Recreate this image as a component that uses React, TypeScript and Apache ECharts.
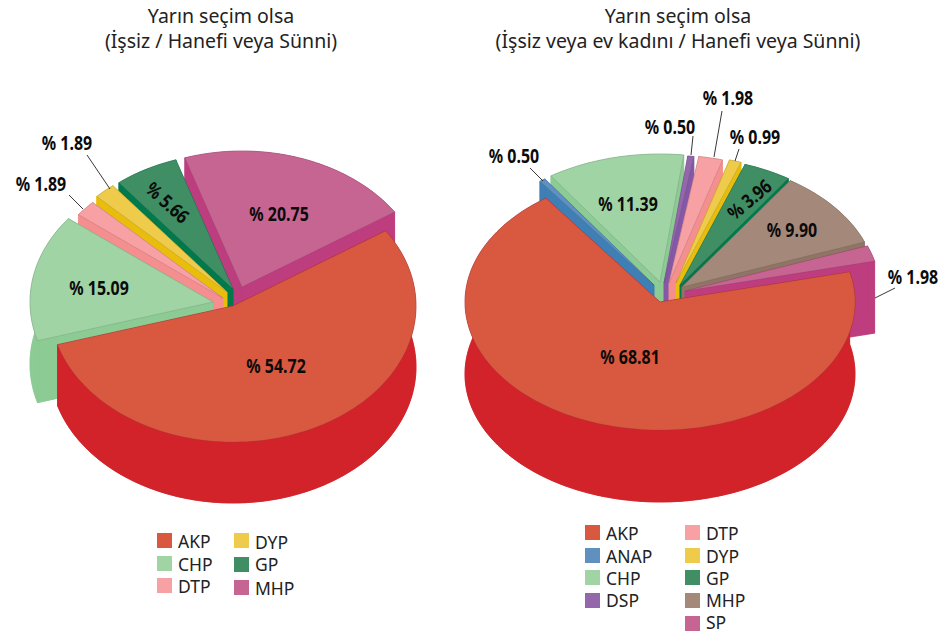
import React, { useEffect, useRef } from "react";
import * as echarts from "echarts";

// ---------- data ----------
const leftTitle = "Yarın seçim olsa\n(İşsiz / Hanefi veya Sünni)";
const rightTitle = "Yarın seçim olsa\n(İşsiz veya ev kadını / Hanefi veya Sünni)";
const leftParties = ["AKP", "CHP", "DTP", "DYP", "GP", "MHP"];
const leftValues = [54.72, 15.09, 1.89, 1.89, 5.66, 20.75];
const rightParties = ["AKP", "ANAP", "CHP", "DSP", "DTP", "DYP", "GP", "MHP", "SP"];
const rightValues = [68.81, 0.5, 11.39, 0.5, 1.98, 0.99, 3.96, 9.9, 1.98];

// ---------- styles ----------
const topColors: Record<string, string> = {
  AKP: "#D95940", ANAP: "#5F90C0", CHP: "#A1D4A5", DSP: "#9467AB", DTP: "#F7A1A4",
  DYP: "#EFCB4B", GP: "#3F8E64", MHP: "#C66591", SP: "#C66591",
};
const sideColors: Record<string, string> = {
  AKP: "#D2232A", ANAP: "#3E7FB5", CHP: "#8CCB93", DSP: "#8458A6", DTP: "#F48E8F",
  DYP: "#E9BD0C", GP: "#007A4D", MHP: "#8F7564", SP: "#BE3D7F",
};
const topLeftMHP = "#C66591";
const sideLeftMHP = "#BE3D7F";
const topRightMHP = "#A4887A";

const FONT = '"Noto Sans", sans-serif';
const LABEL_FONT = `700 19px "Noto Sans", sans-serif`;
const LABEL_SCALE_X = 0.84;

type Layout = {
  parties: string[]; values: number[];
  cx: number; cy: number; rx: number; ry: number; depth: number; start: number;
  apex: [number, number][]; paint: number[];
  labels: { x: number; y: number; rot?: number; line?: number[] }[];
  mhpTop: string; mhpSide: string;
};

const leftLayout: Layout = {
  parties: leftParties, values: leftValues,
  cx: 232, cy: 305, rx: 183, ry: 136, depth: 62, start: -33.5,
  apex: [[233, 306], [213, 302], [223, 298], [227, 292], [233, 289], [242, 287]],
  paint: [5, 4, 3, 2, 1, 0],
  labels: [
    { x: 276, y: 365 },
    { x: 99, y: 287 },
    { x: 41, y: 183, line: [69, 195, 83, 209] },
    { x: 67, y: 142, line: [87, 155, 110, 189] },
    { x: 168, y: 202, rot: -42 },
    { x: 279, y: 213 },
  ],
  mhpTop: topLeftMHP, mhpSide: sideLeftMHP,
};
const rightLayout: Layout = {
  parties: rightParties, values: rightValues,
  cx: 660, cy: 302, rx: 195, ry: 128, depth: 72, start: -13.5,
  apex: [[660, 302], [654, 285], [660, 282], [664, 283], [669, 283], [676, 283], [680, 285], [682, 287], [685, 291]],
  paint: [2, 3, 4, 5, 6, 7, 8, 1, 0],
  labels: [
    { x: 630, y: 356 },
    { x: 514, y: 155, line: [530, 168, 543, 181] },
    { x: 628, y: 203 },
    { x: 670, y: 126, line: [693, 136, 691, 155] },
    { x: 728, y: 97, line: [722, 111, 714, 157] },
    { x: 755, y: 136, line: [739, 149, 735, 161] },
    { x: 749, y: 199, rot: 40 },
    { x: 792, y: 229 },
    { x: 913, y: 276, line: [895, 288, 875, 298] },
  ],
  mhpTop: topRightMHP, mhpSide: sideColors.MHP,
};

const legends = [
  { names: leftParties, cols: [[157, 533, 556, 578], [234, 533, 557, 580]], split: 3, textY: [541, 564, 586, 542, 564, 588] },
  { names: rightParties, cols: [[585, 525, 548, 570, 593], [685, 525, 548, 570, 593, 616]], split: 4, textY: [533, 556, 578, 600, 533, 556, 578, 600, 622] },
];

const rad = (d: number) => (d * Math.PI) / 180;

function sliceAngles(l: Layout, i: number): [number, number] {
  const total = l.values.reduce((a, b) => a + b, 0);
  let a = l.start;
  for (let k = 0; k < i; k++) a += (l.values[k] / total) * 360;
  return [a, a + (l.values[i] / total) * 360];
}
const topOf = (l: Layout, p: string) => (p === "MHP" ? l.mhpTop : topColors[p]);
const sideOf = (l: Layout, p: string) => (p === "MHP" ? l.mhpSide : sideColors[p]);

function sliceGroup(l: Layout, i: number) {
  const [a0, a1] = sliceAngles(l, i);
  const [ax, ay] = l.apex[i];
  const arc: number[][] = [];
  const steps = Math.max(2, Math.ceil((a1 - a0) / 1.5));
  for (let s = 0; s <= steps; s++) {
    const t = rad(a0 + ((a1 - a0) * s) / steps);
    arc.push([ax + l.rx * Math.cos(t), ay + l.ry * Math.sin(t)]);
  }
  const d = i === 0 ? l.depth - 1 + (l === rightLayout ? 1 : 0) : l.depth;
  const down = (p: number[]) => [p[0], p[1] + d];
  const apex = [ax, ay];
  const side = sideOf(l, l.parties[i]);
  const poly = (points: number[][], fill: string, stroke = fill, lw = 0.6) => ({
    type: "polygon", shape: { points }, style: { fill, stroke, lineWidth: lw },
  });
  const first = arc[0];
  const last = arc[arc.length - 1];
  return {
    type: "group",
    children: [
      poly([apex, ...arc].map(down), side),
      poly([apex, first, down(first), down(apex)], side),
      poly([apex, last, down(last), down(apex)], side),
      poly([...arc, ...arc.slice().reverse().map(down)], side),
      poly([apex, ...arc], topOf(l, l.parties[i]), "rgba(70,70,70,0.28)", 0.6),
    ],
  };
}

function labelGroup(l: Layout, i: number) {
  const lab = l.labels[i];
  const children: any[] = [];
  if (lab.line) {
    const [x1, y1, x2, y2] = lab.line;
    children.push({ type: "line", shape: { x1, y1, x2, y2 }, style: { stroke: "#222", lineWidth: 0.9 } });
  }
  children.push({
    type: "text", x: lab.x, y: lab.y, rotation: rad(lab.rot ?? 0), scaleX: LABEL_SCALE_X,
    style: {
      text: `% ${l.values[i].toFixed(2)}`, fill: "#0b0b0b", font: LABEL_FONT,
      textAlign: "center", textVerticalAlign: "middle",
    },
  });
  return { type: "group", children };
}

function pieSeries(l: Layout) {
  return [
    {
      type: "custom", coordinateSystem: "none", silent: true, z: 2,
      data: l.paint.map((i) => ({ name: l.parties[i], value: [l.values[i]] })),
      renderItem: (p: any) => sliceGroup(l, l.paint[p.dataIndex]),
    },
    {
      type: "custom", coordinateSystem: "none", silent: true, z: 5,
      data: l.parties.map((n, i) => ({ name: n, value: [l.values[i]] })),
      renderItem: (p: any) => labelGroup(l, p.dataIndex),
    },
  ];
}

function legendGraphics() {
  const out: any[] = [];
  legends.forEach((g, gi) => {
    const layout = gi === 0 ? leftLayout : rightLayout;
    g.names.forEach((n, i) => {
      const col = i < g.split ? g.cols[0] : g.cols[1];
      const row = i < g.split ? i : i - g.split;
      const x = col[0];
      const y = col[row + 1];
      out.push({ type: "rect", shape: { x, y, width: 15, height: 15 }, style: { fill: topOf(layout, n) } });
      out.push({
        type: "text", x: x + 21, y: g.textY[i],
        style: { text: n, fill: "#222", font: `400 17.5px ${FONT}`, textVerticalAlign: "middle" },
      });
    });
  });
  return out;
}

export default function App() {
  const ref = useRef<HTMLDivElement>(null);
  useEffect(() => {
    const chart = echarts.init(ref.current!, null, { renderer: "svg" });
    const titleStyle = { fontFamily: FONT, fontSize: 19.5, fontWeight: 400, color: "#222", lineHeight: 25 };
    chart.setOption({
      animation: false,
      backgroundColor: "#fff",
      title: [
        { text: leftTitle, left: 221, top: 3, textAlign: "center", textStyle: titleStyle, padding: 0 },
        { text: rightTitle, left: 678, top: 3, textAlign: "center", textStyle: titleStyle, padding: 0 },
      ],
      graphic: legendGraphics(),
      series: [...pieSeries(leftLayout), ...pieSeries(rightLayout)],
    });
    return () => chart.dispose();
  }, []);
  return <div ref={ref} style={{ position: "absolute", left: 0, top: 0, width: 942, height: 634 }} />;
}
